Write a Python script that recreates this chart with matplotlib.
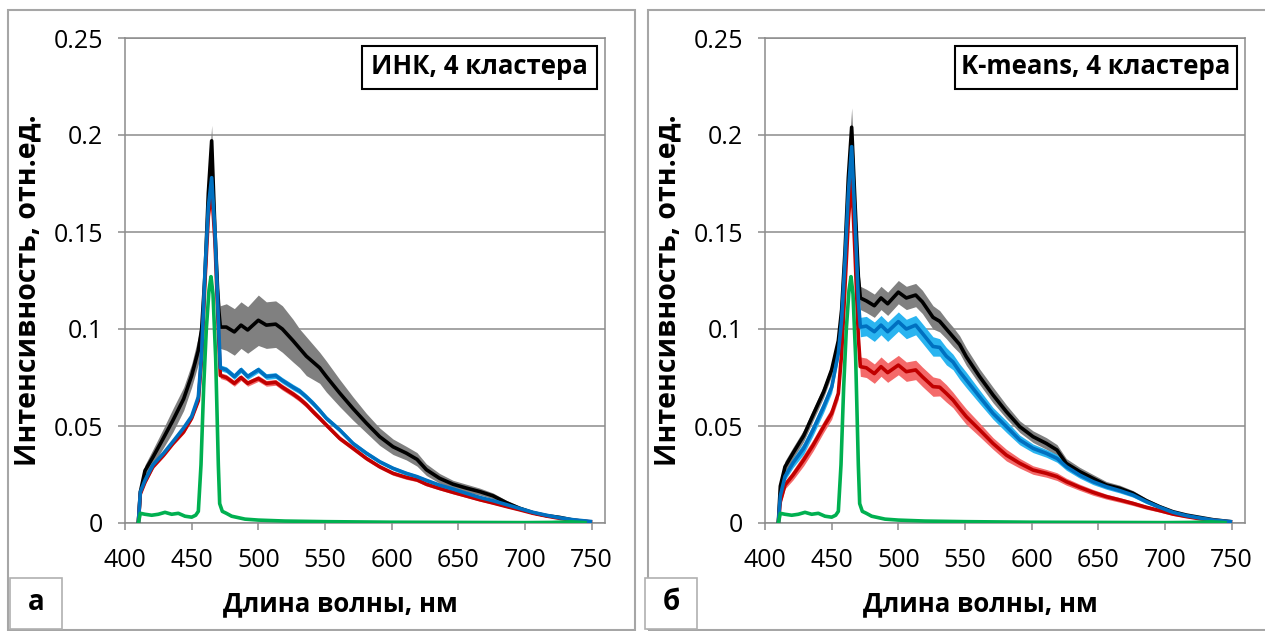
import numpy as np
import matplotlib.pyplot as plt
from matplotlib.patches import Rectangle

plt.rcParams['font.family'] = ['Open Sans', 'DejaVu Sans']

# common wavelength grid (nm)
wl = [410, 411.5, 415, 421, 429, 436, 444, 450, 455, 457.5, 460, 462.5, 465, 467.5, 470,
      471.5, 476, 482, 487, 492, 500, 506, 513, 518, 526, 531, 536, 541, 546, 551, 561,
      571, 581, 591, 601, 611, 619, 626, 636, 646, 656, 666, 676, 686, 696, 706, 716,
      726, 736, 749]

# --- panel a: INK, 4 clusters ---
a_black = [0.0, 0.016, 0.027, 0.034, 0.044, 0.053, 0.064, 0.076, 0.089, 0.100, 0.128, 0.170,
           0.197, 0.150, 0.112, 0.101, 0.101, 0.0985, 0.102, 0.0995, 0.1045, 0.102, 0.1025,
           0.100, 0.094, 0.090, 0.086, 0.083, 0.080, 0.0755, 0.067, 0.059, 0.0515, 0.0445,
           0.0393, 0.036, 0.0328, 0.0275, 0.023, 0.020, 0.018, 0.0162, 0.014, 0.0105,
           0.0076, 0.0053, 0.0038, 0.0029, 0.0015, 0.0005]
a_black_sd = [0.0, 0.002, 0.003, 0.004, 0.005, 0.006, 0.006, 0.006, 0.007, 0.007, 0.007,
              0.008, 0.008, 0.008, 0.010, 0.011, 0.012, 0.012, 0.012, 0.012, 0.013, 0.012,
              0.012, 0.012, 0.011, 0.010, 0.010, 0.009, 0.008, 0.008, 0.007, 0.006, 0.005,
              0.0045, 0.004, 0.0035, 0.0035, 0.003, 0.0025, 0.002, 0.002, 0.0018, 0.0015,
              0.0012, 0.001, 0.0008, 0.0006, 0.0005, 0.0003, 0.0001]
a_blue = [0.0, 0.016, 0.022, 0.030, 0.036, 0.042, 0.049, 0.055, 0.065, 0.088, 0.130, 0.163,
          0.178, 0.150, 0.105, 0.080, 0.079, 0.0755, 0.079, 0.0755, 0.079, 0.0755, 0.076,
          0.0735, 0.070, 0.068, 0.065, 0.0617, 0.058, 0.054, 0.048, 0.041, 0.036, 0.0316,
          0.0282, 0.0256, 0.0239, 0.022, 0.0195, 0.0175, 0.0153, 0.0132, 0.0115, 0.0095,
          0.0075, 0.0055, 0.004, 0.0027, 0.0017, 0.0008]
a_blue_sd = [0.0, 0.001, 0.001, 0.001, 0.001, 0.001, 0.001, 0.001, 0.001, 0.0012, 0.0015,
             0.0015, 0.0015, 0.0015, 0.0015, 0.0015, 0.0015, 0.0015, 0.0015, 0.0015, 0.0015,
             0.0015, 0.0015, 0.0015, 0.0015, 0.0015, 0.0015, 0.0015, 0.0014, 0.0013, 0.0012,
             0.0012, 0.0011, 0.001, 0.001, 0.001, 0.0009, 0.0009, 0.0008, 0.0008, 0.0007,
             0.0007, 0.0006, 0.0005, 0.0005, 0.0004, 0.0003, 0.0003, 0.0002, 0.0001]
a_red = [0.0, 0.015, 0.021, 0.029, 0.035, 0.041, 0.047, 0.054, 0.063, 0.085, 0.125, 0.158,
         0.172, 0.145, 0.100, 0.076, 0.075, 0.072, 0.075, 0.072, 0.0745, 0.072, 0.0725,
         0.070, 0.0665, 0.064, 0.061, 0.0574, 0.054, 0.0505, 0.0436, 0.0385, 0.0333, 0.029,
         0.0256, 0.0235, 0.0222, 0.020, 0.0178, 0.0158, 0.0139, 0.012, 0.0103, 0.0085,
         0.0068, 0.005, 0.0036, 0.0024, 0.0014, 0.0006]
a_red_sd = a_blue_sd

# --- panel b: K-means, 4 clusters ---
b_black = [0.0, 0.019, 0.029, 0.036, 0.045, 0.0557, 0.0677, 0.079, 0.094, 0.110, 0.140,
           0.178, 0.204, 0.165, 0.127, 0.116, 0.1145, 0.112, 0.116, 0.113, 0.119, 0.116,
           0.1175, 0.114, 0.106, 0.104, 0.100, 0.096, 0.092, 0.0857, 0.0754, 0.066, 0.0574,
           0.0497, 0.0445, 0.041, 0.0376, 0.0307, 0.0265, 0.023, 0.0196, 0.0179, 0.0153,
           0.0115, 0.0084, 0.0058, 0.0041, 0.0029, 0.0017, 0.0007]
b_black_sd = [0.0, 0.002, 0.003, 0.003, 0.003, 0.003, 0.003, 0.003, 0.004, 0.005, 0.006,
              0.008, 0.010, 0.008, 0.007, 0.006, 0.006, 0.006, 0.006, 0.006, 0.006, 0.006,
              0.006, 0.006, 0.006, 0.0055, 0.005, 0.005, 0.0045, 0.0045, 0.004, 0.004,
              0.0035, 0.003, 0.003, 0.003, 0.0028, 0.0025, 0.0022, 0.002, 0.0018, 0.0016,
              0.0014, 0.0012, 0.001, 0.0008, 0.0006, 0.0005, 0.0003, 0.0001]
b_blue = [0.0, 0.014, 0.024, 0.031, 0.0385, 0.048, 0.060, 0.070, 0.0875, 0.105, 0.135,
          0.170, 0.194, 0.156, 0.115, 0.101, 0.1015, 0.0986, 0.102, 0.0986, 0.1038, 0.100,
          0.102, 0.0978, 0.091, 0.0905, 0.086, 0.083, 0.078, 0.0737, 0.065, 0.0565, 0.0497,
          0.0428, 0.0385, 0.0359, 0.0333, 0.029, 0.0247, 0.0213, 0.0187, 0.0167, 0.0144,
          0.011, 0.0081, 0.0055, 0.0038, 0.0026, 0.0015, 0.0007]
b_blue_sd = [0.0, 0.002, 0.002, 0.0025, 0.003, 0.003, 0.003, 0.003, 0.003, 0.004, 0.004,
             0.005, 0.005, 0.005, 0.005, 0.005, 0.005, 0.005, 0.005, 0.005, 0.005, 0.005,
             0.005, 0.005, 0.005, 0.0045, 0.0045, 0.004, 0.004, 0.004, 0.0035, 0.003,
             0.003, 0.0025, 0.0022, 0.002, 0.002, 0.0018, 0.0016, 0.0015, 0.0013, 0.0012,
             0.0011, 0.001, 0.0008, 0.0007, 0.0005, 0.0004, 0.0003, 0.0001]
b_red = [0.0, 0.011, 0.0196, 0.0247, 0.0325, 0.040, 0.0497, 0.0565, 0.0668, 0.0875, 0.122,
         0.156, 0.1785, 0.139, 0.096, 0.0806, 0.080, 0.077, 0.0806, 0.0775, 0.0814, 0.078,
         0.0789, 0.0754, 0.0703, 0.070, 0.0668, 0.0634, 0.059, 0.0548, 0.048, 0.041, 0.035,
         0.0308, 0.0273, 0.0256, 0.0239, 0.0213, 0.0184, 0.0158, 0.0136, 0.0119, 0.0101,
         0.0081, 0.0064, 0.0046, 0.0033, 0.0022, 0.0014, 0.0005]
b_red_sd = [0.0, 0.002, 0.002, 0.0025, 0.003, 0.003, 0.003, 0.003, 0.003, 0.004, 0.004,
            0.004, 0.004, 0.004, 0.005, 0.005, 0.005, 0.005, 0.005, 0.005, 0.005, 0.005,
            0.005, 0.005, 0.005, 0.0045, 0.0045, 0.004, 0.004, 0.004, 0.0035, 0.003,
            0.003, 0.0025, 0.0022, 0.002, 0.002, 0.0018, 0.0016, 0.0015, 0.0013, 0.0012,
            0.0011, 0.001, 0.0008, 0.0007, 0.0005, 0.0004, 0.0003, 0.0001]

# green cluster (same in both panels)
g_wl = [410, 411.5, 415, 420, 425, 430, 435, 440, 445, 450, 453, 455, 457, 459, 461, 463,
        464.5, 466, 468, 470, 471, 473, 476, 480, 490, 500, 520, 550, 600, 650, 700, 720,
        735, 745]
g_val = [0.0, 0.005, 0.0045, 0.004, 0.0045, 0.0055, 0.0045, 0.005, 0.0035, 0.003, 0.004,
         0.006, 0.03, 0.07, 0.10, 0.12, 0.127, 0.118, 0.085, 0.03, 0.01, 0.006, 0.005, 0.0035,
         0.002, 0.0015, 0.001, 0.0007, 0.0004, 0.0003, 0.0002, 0.0003, 0.0006, 0.0002]

titles = ['ИНК, 4 кластера', 'K-means, 4 кластера']
letters = ['а', 'б']
xticks = [400, 450, 500, 550, 600, 650, 700, 750]
yticks = [0, 0.05, 0.1, 0.15, 0.2, 0.25]
yticklabels = ['0', '0.05', '0.1', '0.15', '0.2', '0.25']

W, H = 1265, 631
fig = plt.figure(figsize=(W / 100, H / 100), dpi=100)

def fx(px):
    return px / W

def fy(py):
    return 1 - py / H

panels = [
    dict(x0=125, box=(8, 635), tbox=(362, 597), lbox=(10, 62),
         series=[(a_black, a_black_sd), (a_red, a_red_sd), (a_blue, a_blue_sd)]),
    dict(x0=765, box=(648, 1275), tbox=(955, 1237), lbox=(645, 697),
         series=[(b_black, b_black_sd), (b_red, b_red_sd), (b_blue, b_blue_sd)]),
]
line_cols = ['#000000', '#c00000', '#0070c0']
band_cols = ['#808080', '#f46a6a', '#2ab4f0']

for i, p in enumerate(panels):
    # panel frame
    b0, b1 = p['box']
    fig.patches.append(Rectangle((fx(b0), fy(630)), fx(b1 - b0), fy(10) - fy(630),
                                 transform=fig.transFigure, fill=False,
                                 edgecolor='#a6a6a6', lw=1.5))
    ax = fig.add_axes([fx(p['x0']), fy(523), fx(480), fy(38) - fy(523)])
    x = np.array(wl)
    for (m, sd), bc in zip(p['series'], band_cols):
        m = np.array(m)
        sd = np.array(sd)
        ax.fill_between(x, m - sd, m + sd, color=bc, lw=0, zorder=2)
    for (m, sd), lc in zip(p['series'], line_cols):
        ax.plot(x, m, color=lc, lw=2.6, zorder=3)
    ax.plot(g_wl, g_val, color='#00b050', lw=2.6, zorder=4)

    ax.set_xlim(400, 760)
    ax.set_ylim(0, 0.25)
    ax.set_xticks(xticks)
    ax.set_yticks(yticks)
    ax.set_yticklabels(yticklabels)
    ax.grid(axis='y', color='#8c8c8c', lw=1.1)
    ax.set_axisbelow(True)
    for s in ax.spines.values():
        s.set_color('#8c8c8c')
        s.set_linewidth(1.1)
    ax.tick_params(axis='both', direction='out', length=5, width=1.1, color='#8c8c8c',
                   labelsize=18, labelcolor='black')
    ax.tick_params(axis='x', pad=13)
    ax.tick_params(axis='y', pad=11)

    # title box
    t0, t1 = p['tbox']
    fig.patches.append(Rectangle((fx(t0), fy(89)), fx(t1 - t0), fy(46) - fy(89),
                                 transform=fig.transFigure, facecolor='white',
                                 edgecolor='black', lw=1.5, zorder=5))
    fig.text(fx((t0 + t1) / 2), fy(67), titles[i], ha='center', va='center',
             fontsize=18.5, fontweight='bold', zorder=6)

    # letter box
    l0, l1 = p['lbox']
    fig.patches.append(Rectangle((fx(l0), fy(629)), fx(l1 - l0), fy(578) - fy(629),
                                 transform=fig.transFigure, facecolor='white',
                                 edgecolor='#b0b0b0', lw=1.2))
    fig.text(fx((l0 + l1) / 2), fy(603), letters[i], ha='center', va='center',
             fontsize=20, fontweight='bold')

    # axis labels
    fig.text(fx(p['x0'] + 215), fy(604), 'Длина волны, нм', ha='center', va='center',
             fontsize=18.5, fontweight='bold')
    fig.text(fx(p['x0'] - 97), fy(290), 'Интенсивность, отн.ед.', ha='center',
             va='center', rotation=90, fontsize=20.5, fontweight='bold')

fig.savefig('out.png', dpi=100)
